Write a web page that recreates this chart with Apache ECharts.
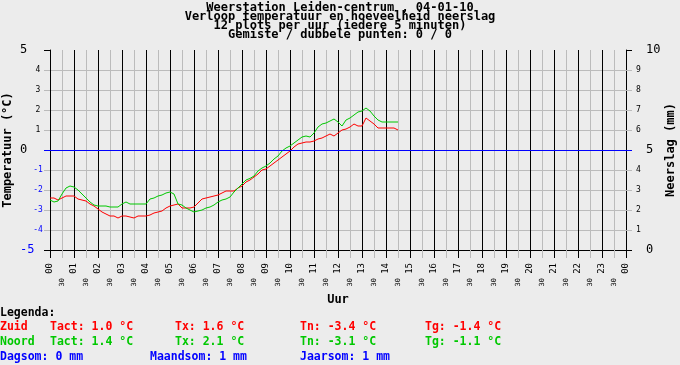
<!DOCTYPE html>
<html><head><meta charset="utf-8">
<script src="https://cdn.jsdelivr.net/npm/echarts@6/dist/echarts.min.js"></script>
<style>html,body{margin:0;padding:0;background:#ECECEC}#c{width:680px;height:365px}</style>
</head><body><div id="c"></div>
<script>
const titleLines = ['Weerstation Leiden-centrum , 04-01-10','Verloop temperatuur en hoeveelheid neerslag','12 plots per uur (iedere 5 minuten)','Gemiste / dubbele punten: 0 / 0'];
const hourLabels = ['00','01','02','03','04','05','06','07','08','09','10','11','12','13','14','15','16','17','18','19','20','21','22','23','00'];
const halfLabel = '30';
const stepMinutes = 10; // readings every 10 minutes from 00:00
const zuid = [
 -2.4,-2.4,-2.5,-2.4,-2.3,-2.3,
 -2.3,-2.45,-2.5,-2.55,-2.7,-2.8,
 -2.95,-3.1,-3.2,-3.3,-3.3,-3.4,
 -3.3,-3.3,-3.35,-3.4,-3.3,-3.3,
 -3.3,-3.25,-3.15,-3.1,-3.05,-2.9,
 -2.8,-2.75,-2.7,-2.9,-2.9,-2.9,
 -2.85,-2.65,-2.45,-2.4,-2.35,-2.3,
 -2.25,-2.15,-2.05,-2.05,-2.05,-1.9,
 -1.8,-1.6,-1.5,-1.35,-1.2,-1.0,
 -0.95,-0.8,-0.65,-0.5,-0.35,-0.2,
 -0.05,0.15,0.3,0.35,0.4,0.4,
 0.45,0.55,0.6,0.7,0.8,0.7,
 0.85,1.0,1.05,1.15,1.3,1.2,
 1.2,1.6,1.45,1.3,1.1,1.1,
 1.1,1.1,1.1,1.0];
const noord = [
 -2.5,-2.6,-2.55,-2.2,-1.9,-1.8,
 -1.85,-2.0,-2.2,-2.4,-2.6,-2.75,
 -2.8,-2.8,-2.8,-2.85,-2.85,-2.85,
 -2.7,-2.6,-2.7,-2.7,-2.7,-2.7,
 -2.7,-2.45,-2.4,-2.3,-2.25,-2.15,
 -2.1,-2.2,-2.7,-2.75,-2.9,-3.0,
 -3.1,-3.05,-3.0,-2.9,-2.85,-2.75,
 -2.6,-2.5,-2.45,-2.35,-2.1,-1.9,
 -1.7,-1.5,-1.42,-1.3,-1.05,-0.9,
 -0.8,-0.65,-0.45,-0.3,-0.05,0.1,
 0.2,0.35,0.5,0.65,0.7,0.65,
 0.85,1.15,1.3,1.35,1.45,1.55,
 1.4,1.2,1.5,1.6,1.75,1.9,
 1.95,2.1,1.95,1.7,1.5,1.4,
 1.4,1.4,1.4,1.4];
const zeroLine = 0;
const legendTitle = 'Legenda:';
const zuidName = 'Zuid', noordName = 'Noord';
const zuidStats = ['Tact: 1.0 °C','Tx: 1.6 °C','Tn: -3.4 °C','Tg: -1.4 °C'];
const noordStats = ['Tact: 1.4 °C','Tx: 2.1 °C','Tn: -3.1 °C','Tg: -1.1 °C'];
const totals = ['Dagsom: 0 mm','Maandsom: 1 mm','Jaarsom: 1 mm'];

const RED='#FF0000', GREEN='#00C800', BLUE='#0000FF', GRAY='#BBBBBB';
const MONO='DejaVu Sans Mono';
const chart = echarts.init(document.getElementById('c'), null, {renderer:'canvas'});

function txt(text, x, y, color, size, align){
  return {type:'text', x:x, y:y, silent:true, style:{text:text, fill:color, font:'bold '+size+'px "'+MONO+'"', align:align||'left', verticalAlign:'middle'}};
}
const graphics = [];
const tY = [7.5,16.5,25.8,35];
titleLines.forEach((t,i)=>graphics.push(txt(t,340,tY[i],'#000',12,'center')));
graphics.push(txt(legendTitle,0,313,'#000',11.5));
const colX = [50,175,300,425];
graphics.push(txt(zuidName,0,327,RED,11.5));
zuidStats.forEach((t,i)=>graphics.push(txt(t,colX[i],327,RED,11.5)));
graphics.push(txt(noordName,0,342,GREEN,11.5));
noordStats.forEach((t,i)=>graphics.push(txt(t,colX[i],342,GREEN,11.5)));
const totX=[0,150,300];
totals.forEach((t,i)=>graphics.push(txt(t,totX[i],357,BLUE,11.5)));

const nameStyle = {fontFamily:MONO, fontWeight:'bold', fontSize:12, color:'#000'};
const noLine = {show:false, onZero:false};

chart.setOption({
  animation:false,
  backgroundColor:'#ECECEC',
  graphic: graphics,
  grid:{left:50, top:50, width:576, height:200, containLabel:false, outerBoundsMode:'none'},
  xAxis:[
    {type:'value', min:0, max:24, interval:1, position:'bottom',
     axisLine:{onZero:false, lineStyle:{color:'#000'}},
     axisTick:{length:8, lineStyle:{color:'#000'}},
     minorTick:{show:true, splitNumber:2, length:8, lineStyle:{color:GRAY}},
     splitLine:{show:true, lineStyle:{color:'#000'}},
     minorSplitLine:{show:true, lineStyle:{color:GRAY}},
     axisLabel:{rotate:90, margin:13, fontSize:9, fontFamily:MONO, color:'#000', formatter:v=>hourLabels[Math.round(v)]},
     name:'Uur', nameLocation:'middle', nameGap:44, nameTextStyle:nameStyle},
    {type:'value', min:0, max:24, interval:0.5, position:'bottom',
     axisLine:noLine, axisTick:{show:false}, splitLine:{show:false},
     axisLabel:{rotate:90, margin:28, fontSize:7, fontFamily:MONO, color:'#000', formatter:v=>(Math.abs(v%1-0.5)<1e-6?halfLabel:'')}}
  ],
  yAxis:[
    {type:'value', min:-5, max:5, interval:1, position:'left',
     axisLine:{show:true, onZero:false, lineStyle:{color:'#000'}},
     axisTick:{show:true, length:6, lineStyle:{color:GRAY}, customValues:[-4,-3,-2,-1,1,2,3,4]},
     axisLabel:{margin:12, align:'center', fontFamily:MONO,
       formatter:v=>{ if(v===5||v===0||v===-5) return ''; return v<0?'{b|'+v+'}':'{k|'+v+'}'; },
       rich:{k:{color:'#000',fontSize:8,fontFamily:MONO}, b:{color:BLUE,fontSize:8,fontFamily:MONO}}},
     splitLine:{show:true, lineStyle:{color:GRAY}},
     name:'Temperatuur (°C)', nameLocation:'middle', nameGap:36, nameRotate:90, nameTextStyle:nameStyle},
    {type:'value', min:-5, max:5, interval:1, position:'left',
     axisLine:noLine,
     axisTick:{show:true, length:6, lineStyle:{color:BLUE}, customValues:[0]},
     axisLabel:{margin:30, align:'left', fontFamily:MONO,
       formatter:v=>{ if(v===5||v===0) return '{k|'+v+'}'; if(v===-5) return '{b|'+v+'}'; return ''; },
       rich:{k:{color:'#000',fontSize:12,fontFamily:MONO}, b:{color:BLUE,fontSize:12,fontFamily:MONO}}},
     splitLine:{show:false}},
    {type:'value', min:-5, max:5, interval:1, position:'left',
     axisLine:noLine,
     axisTick:{show:true, length:6, lineStyle:{color:'#000'}, customValues:[-5,5]},
     axisLabel:{show:false}, splitLine:{show:false}},
    {type:'value', min:0, max:10, interval:1, position:'right',
     axisLine:{show:true, onZero:false, lineStyle:{color:'#000'}},
     axisTick:{show:true, length:6, lineStyle:{color:GRAY}, customValues:[1,2,3,4,6,7,8,9]},
     axisLabel:{margin:10, fontSize:8, fontFamily:MONO, color:'#000',
       formatter:v=>(v===0||v===5||v===10)?'':String(v)},
     splitLine:{show:false},
     name:'Neerslag (mm)', nameLocation:'middle', nameGap:39, nameRotate:90, nameTextStyle:nameStyle},
    {type:'value', min:0, max:10, interval:1, position:'right',
     axisLine:noLine,
     axisTick:{show:true, length:6, lineStyle:{color:BLUE}, customValues:[5]},
     axisLabel:{margin:20, fontSize:12, fontFamily:MONO, color:'#000',
       formatter:v=>(v===0||v===5||v===10)?String(v):''},
     splitLine:{show:false}},
    {type:'value', min:0, max:10, interval:1, position:'right',
     axisLine:noLine,
     axisTick:{show:true, length:6, lineStyle:{color:'#000'}, customValues:[0,10]},
     axisLabel:{show:false}, splitLine:{show:false}}
  ],
  series:[
    {name:zuidName, type:'line', xAxisIndex:0, yAxisIndex:0, showSymbol:false, symbol:'none', z:3,
     lineStyle:{color:RED, width:1}, itemStyle:{color:RED},
     data:zuid.map((v,i)=>[i*stepMinutes/60, v]),
     markLine:{silent:true, symbol:'none', label:{show:false}, animation:false,
       lineStyle:{color:BLUE, width:1, type:'solid'}, data:[{yAxis:zeroLine}]}},
    {name:noordName, type:'line', xAxisIndex:0, yAxisIndex:0, showSymbol:false, symbol:'none', z:4,
     lineStyle:{color:GREEN, width:1}, itemStyle:{color:GREEN},
     data:noord.map((v,i)=>[i*stepMinutes/60, v])}
  ]
});
</script></body></html>
